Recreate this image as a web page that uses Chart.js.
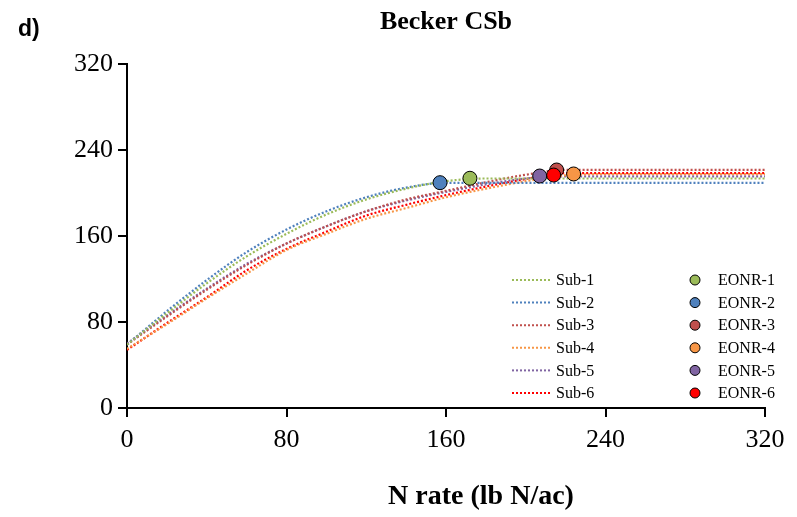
<!DOCTYPE html>
<html><head><meta charset="utf-8">
<script src="https://cdn.jsdelivr.net/npm/chart.js@4/dist/chart.umd.min.js"></script>
<style>html,body{margin:0;padding:0;background:#fff;}#wrap{width:797px;height:517px;position:relative;}</style>
</head><body><div id="wrap"><canvas id="c" width="797" height="517"></canvas></div>
<script>
// ---- data ----
const nRates = [0, 20, 40, 60, 80, 100, 120, 140, 160, 180, 200, 220, 240, 260, 280, 300, 320];
const sub1 = [59, 88, 116, 141, 162, 180, 194, 204, 211, 213.5, 213.5, 213.5, 213.5, 213.5, 213.5, 213.5, 213.5];
const sub2 = [59, 90, 119, 145, 166, 183, 196, 205, 209.5, 209.5, 209.5, 209.5, 209.5, 209.5, 209.5, 209.5, 209.5];
const sub3 = [59, 85, 110, 133, 153, 169, 183, 194, 202, 210, 217, 221.5, 221.5, 221.5, 221.5, 221.5, 221.5];
const sub4 = [55, 78, 102, 125, 147, 162, 176, 186, 196, 204, 211, 216.5, 217.5, 217.5, 217.5, 217.5, 217.5];
const sub5 = [60, 86, 111, 134, 153, 169, 183, 193, 201, 208, 213.5, 215.5, 215.5, 215.5, 215.5, 215.5, 215.5];
const sub6 = [54, 79, 103, 128, 148, 164, 179, 189, 198, 206, 213, 218.5, 218.5, 218.5, 218.5, 218.5, 218.5];
const seriesNames = ['Sub-1', 'Sub-2', 'Sub-3', 'Sub-4', 'Sub-5', 'Sub-6'];
const eonrNames = ['EONR-1', 'EONR-2', 'EONR-3', 'EONR-4', 'EONR-5', 'EONR-6'];
const eonrRate = [172, 157, 215.5, 224, 207, 214];
const eonrYield = [213.7, 209.6, 221.4, 217.7, 215.8, 216.7];
const xTicks = [0, 80, 160, 240, 320];
const yTicks = [0, 80, 160, 240, 320];
const chartTitle = 'Becker CSb';
const xTitle = 'N rate (lb N/ac)';
const panelLabel = 'd)';

// ---- styling ----
const colors = ['#9BBB59', '#4F81BD', '#C0504D', '#F79646', '#8064A2', '#FF0000'];
const serif = '"Liberation Serif", "Times New Roman", serif';
const seriesVals = [sub1, sub2, sub3, sub4, sub5, sub6];

const datasets = [];
seriesVals.forEach((vals, i) => {
  datasets.push({
    label: seriesNames[i],
    data: nRates.map((x, k) => ({x: x, y: vals[k]})),
    showLine: true,
    borderColor: colors[i],
    backgroundColor: colors[i],
    borderWidth: 2.2,
    borderDash: [2, 2],
    pointRadius: 0,
    cubicInterpolationMode: 'monotone',
    fill: false,
    order: 20 + i
  });
});
const pointOrder = [6, 5, 3, 4, 2, 1];
eonrNames.forEach((name, i) => {
  datasets.push({
    label: name,
    data: [{x: eonrRate[i], y: eonrYield[i]}],
    showLine: false,
    backgroundColor: colors[i],
    borderColor: '#000',
    borderWidth: 1,
    pointRadius: 7,
    pointHoverRadius: 7,
    order: pointOrder[i]
  });
});

const extras = {
  id: 'extras',
  afterDraw(chart) {
    const ctx = chart.ctx;
    ctx.save();
    ctx.fillStyle = '#000';
    // panel letter
    ctx.font = 'bold 23px "Liberation Sans", Arial, sans-serif';
    ctx.textAlign = 'left';
    ctx.textBaseline = 'middle';
    ctx.fillText(panelLabel, 18, 30);
    // x axis title
    ctx.font = 'bold 28px ' + serif;
    ctx.textAlign = 'center';
    ctx.fillText(xTitle, 481, 497);
    // legend
    ctx.textAlign = 'left';
    const y0 = 280, dy = 22.6;
    ctx.font = '16px ' + serif;
    for (let i = 0; i < 6; i++) {
      const y = y0 + dy * i;
      ctx.strokeStyle = colors[i];
      ctx.lineWidth = 2;
      ctx.setLineDash([2, 2]);
      ctx.beginPath();
      ctx.moveTo(512, y);
      ctx.lineTo(552, y);
      ctx.stroke();
      ctx.setLineDash([]);
      ctx.fillStyle = '#000';
      ctx.fillText(seriesNames[i], 556, y + 1);
      ctx.beginPath();
      ctx.arc(695, y, 5, 0, Math.PI * 2);
      ctx.fillStyle = colors[i];
      ctx.fill();
      ctx.lineWidth = 1;
      ctx.strokeStyle = '#000';
      ctx.stroke();
      ctx.fillStyle = '#000';
      ctx.fillText(eonrNames[i], 718, y + 1);
    }
    ctx.restore();
  }
};

const axisCommon = {
  type: 'linear', min: 0, max: 320,
  grid: {display: true, drawOnChartArea: false, drawTicks: true, tickLength: 9, color: '#000', lineWidth: 2},
  border: {display: true, color: '#000', width: 2}
};

new Chart(document.getElementById('c'), {
  type: 'scatter',
  data: {datasets: datasets},
  options: {
    responsive: false,
    animation: false,
    devicePixelRatio: 1,
    layout: {padding: {top: 0, right: 32, left: 0, bottom: 0}},
    plugins: {
      legend: {display: false},
      tooltip: {enabled: false},
      title: {
        display: true, text: chartTitle, fullSize: false, color: '#000',
        font: {family: serif, size: 26, weight: 'bold'},
        padding: {top: 7, bottom: 25.8}
      }
    },
    scales: {
      x: Object.assign({}, axisCommon, {
        afterBuildTicks: s => { s.ticks = xTicks.map(v => ({value: v})); },
        ticks: {color: '#000', font: {family: serif, size: 26}, padding: 8, maxRotation: 0, autoSkip: false},
        afterFit: s => { s.height = 109; }
      }),
      y: Object.assign({}, axisCommon, {
        afterBuildTicks: s => { s.ticks = yTicks.map(v => ({value: v})); },
        ticks: {color: '#000', font: {family: serif, size: 26}, padding: 5, autoSkip: false},
        afterFit: s => { s.width = 127; }
      })
    }
  },
  plugins: [extras]
});
</script></body></html>
